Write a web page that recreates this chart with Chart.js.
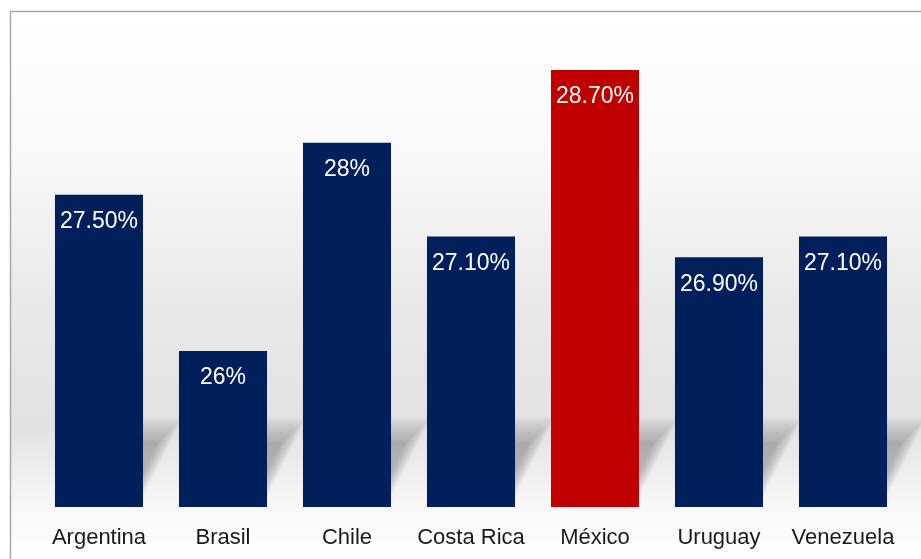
<!DOCTYPE html>
<html><head><meta charset="utf-8">
<script src="https://cdn.jsdelivr.net/npm/chart.js@4"></script>
<style>html,body{margin:0;padding:0;background:#fff}canvas{display:block}</style>
</head><body>
<canvas id="c" width="921" height="559"></canvas>
<script>
const categories = ['Argentina','Brasil','Chile','Costa Rica','México','Uruguay','Venezuela'];
const values = [27.5, 26, 28, 27.1, 28.7, 26.9, 27.1];
const valueLabels = ['27.50%','26%','28%','27.10%','28.70%','26.90%','27.10%'];
const barColors = ['#001f5b','#001f5b','#001f5b','#001f5b','#c00000','#001f5b','#001f5b'];

const FONT = '"Liberation Sans", Arial, sans-serif';

const bgPlugin = {
  id: 'bg',
  beforeDraw(chart) {
    const ctx = chart.ctx;
    ctx.save();
    ctx.fillStyle = '#ffffff';
    ctx.fillRect(0, 0, chart.width, chart.height);
    const g = ctx.createLinearGradient(0, 11, 0, 559);
    g.addColorStop(0, '#ffffff');
    g.addColorStop(0.25, '#f9f9f9');
    g.addColorStop(0.55, '#e8e8e8');
    g.addColorStop(0.76, '#e2e2e2');
    g.addColorStop(0.9, '#f7f7f7');
    g.addColorStop(1, '#ffffff');
    ctx.fillStyle = g;
    ctx.fillRect(10, 11, chart.width - 10, chart.height - 11);
    ctx.strokeStyle = '#a8a8a8';
    ctx.lineWidth = 1.5;
    ctx.beginPath();
    ctx.moveTo(10.5, chart.height);
    ctx.lineTo(10.5, 11.5);
    ctx.lineTo(chart.width, 11.5);
    ctx.stroke();
    ctx.restore();
  },
  beforeDatasetsDraw(chart) {
    const ctx = chart.ctx;
    const meta = chart.getDatasetMeta(0);
    const b = chart.chartArea.bottom;
    const layers = 18;
    ctx.save();
    ctx.fillStyle = 'rgba(90,90,90,0.022)';
    meta.data.forEach(bar => {
      const l = bar.x - bar.width / 2, r = bar.x + bar.width / 2;
      for (let k = 0; k < layers; k++) {
        const s = k * 1.5;
        ctx.beginPath();
        ctx.moveTo(l + 10, b - 2 - s * 0.4);
        ctx.lineTo(r - 4 - s * 0.3, b - 2 - s * 0.4);
        ctx.lineTo(r + 40 - s, b - 90 + s);
        ctx.lineTo(l + 46, b - 90 + s);
        ctx.closePath();
        ctx.fill();
      }
    });
    ctx.restore();
  },
  afterDatasetsDraw(chart) {
    const ctx = chart.ctx;
    const meta = chart.getDatasetMeta(0);
    ctx.save();
    ctx.fillStyle = '#ffffff';
    ctx.font = '23px ' + FONT;
    ctx.textAlign = 'center';
    ctx.textBaseline = 'middle';
    meta.data.forEach((bar, i) => {
      ctx.fillText(valueLabels[i], bar.x, bar.y + 27);
    });
    ctx.restore();
  }
};

new Chart(document.getElementById('c'), {
  type: 'bar',
  data: {
    labels: categories,
    datasets: [{
      data: values,
      backgroundColor: barColors,
      borderWidth: 0,
      barPercentage: 0.71,
      categoryPercentage: 1.0
    }]
  },
  options: {
    responsive: false,
    animation: false,
    events: [],
    layout: { padding: { left: 37, right: 16, top: 11, bottom: 10 } },
    plugins: { legend: { display: false }, tooltip: { enabled: false } },
    scales: {
      x: {
        grid: { display: false, drawTicks: false },
        border: { display: false },
        ticks: { color: '#1a1a1a', font: { size: 22, family: FONT }, padding: 18, maxRotation: 0 },
        afterFit(scale) { scale.height = 42; }
      },
      y: {
        display: false,
        min: 24.5,
        max: 29.267
      }
    }
  },
  plugins: [bgPlugin]
});
</script>
</body></html>
